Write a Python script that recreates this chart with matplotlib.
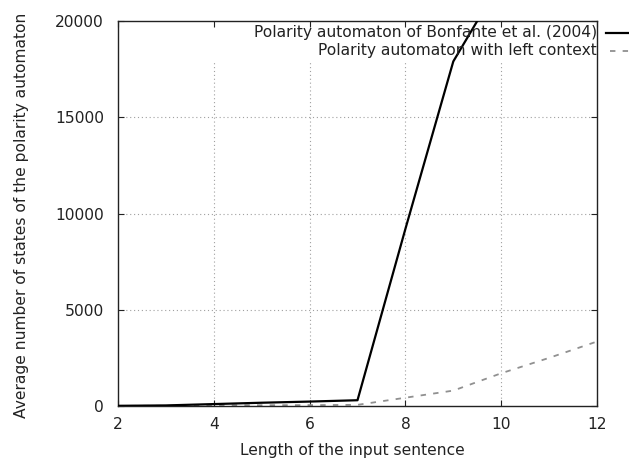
import matplotlib
matplotlib.use("Agg")
import matplotlib.pyplot as plt
from matplotlib.lines import Line2D

# Data
lengths = [2, 3, 4, 5, 6, 7, 8, 9, 10]
bonfante = [10, 30, 100, 170, 230, 300, 9200, 17900, 22100]
lengths_ctx = [2, 3, 4, 5, 6, 7, 8, 9, 10, 11, 12]
left_context = [5, 10, 40, 40, 45, 60, 430, 800, 1700, 2500, 3350]
x_ticks = [2, 4, 6, 8, 10, 12]
y_ticks = [0, 5000, 10000, 15000, 20000]
label_bonfante = "Polarity automaton of Bonfante et al. (2004)"
label_ctx = "Polarity automaton with left context"
xlabel = "Length of the input sentence"
ylabel = "Average number of states of the polarity automaton"

plt.rcParams['font.family'] = ['DejaVu Sans']
FS = 11.2
W, H = 629, 459
fig = plt.figure(figsize=(W / 100, H / 100), dpi=100)
L, R, T, B = 118, 597, 21, 406
ax = fig.add_axes([L / W, (H - B) / H, (R - L) / W, (B - T) / H])

ax.set_xlim(2, 12)
ax.set_ylim(0, 20000)

# grid (stops below key area)
gtop = (B - 62) / (B - T)
for xv in x_ticks[1:-1]:
    ax.axvline(xv, ymin=0, ymax=gtop, color='#a0a0a0', lw=0.8, ls=(0, (1, 2.5)), zorder=0)
for yv in y_ticks[1:-1]:
    ax.axhline(yv, color='#a0a0a0', lw=0.8, ls=(0, (1, 2.5)), zorder=0)

ax.plot(lengths, bonfante, color='black', lw=1.6, zorder=3)
ax.plot(lengths_ctx, left_context, color='#909090', lw=1.3, ls=(0, (3, 4)), zorder=2)

ax.set_xticks(x_ticks)
ax.set_yticks(y_ticks)
ax.tick_params(direction='in', length=4, width=0.8, top=True, right=True,
               labelsize=FS, colors='#222222', pad=8)
ax.tick_params(axis='y', pad=10)
for s in ax.spines.values():
    s.set_linewidth(1.0)
    s.set_color('#222222')

fig.text(352 / W, 1 - 451 / H, xlabel, ha='center', va='center', fontsize=FS, color='#222222')
fig.text(22 / W, 1 - 215 / H, ylabel, ha='center', va='center', rotation=90, fontsize=FS, color='#222222')

# key
for yk, lab in [(33, label_bonfante), (51, label_ctx)]:
    fig.text(597 / W, 1 - yk / H, lab, ha='right', va='center', fontsize=FS, color='#222222')
fig.add_artist(Line2D([606 / W, 1.0], [1 - 33 / H] * 2, color='black', lw=1.6, transform=fig.transFigure))
fig.add_artist(Line2D([610 / W, 1.0], [1 - 51 / H] * 2, color='#909090', lw=1.3, ls=(0, (3, 4)), transform=fig.transFigure))

fig.savefig('out.png', dpi=100)
